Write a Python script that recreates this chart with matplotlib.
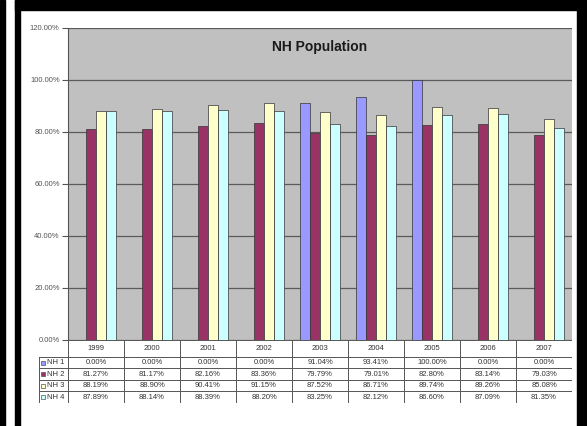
import matplotlib
matplotlib.use("Agg")
import matplotlib.pyplot as plt
import numpy as np
from matplotlib.patches import Rectangle

years = ["1999", "2000", "2001", "2002", "2003", "2004", "2005", "2006", "2007"]
series_names = ["NH 1", "NH 2", "NH 3", "NH 4"]
nh1 = [0.00, 0.00, 0.00, 0.00, 91.04, 93.41, 100.00, 0.00, 0.00]
nh2 = [81.27, 81.17, 82.16, 83.36, 79.79, 79.01, 82.80, 83.14, 79.03]
nh3 = [88.19, 88.90, 90.41, 91.15, 87.52, 86.71, 89.74, 89.26, 85.08]
nh4 = [87.89, 88.14, 88.39, 88.20, 83.25, 82.12, 86.60, 87.09, 81.35]
colors = ["#9999FF", "#993366", "#FFFFCC", "#CCFFFF"]
yticks = [0, 20, 40, 60, 80, 100, 120]

plt.rcParams['font.family'] = ['Liberation Sans', 'DejaVu Sans']

W, H = 587, 426
fig = plt.figure(figsize=(W / 100, H / 100), dpi=100)
fig.patch.set_facecolor("white")

def fx(px):
    return px / W

def fy(py):
    return 1 - py / H

# black frame pieces
for (x0, y0, x1, y1) in [(0, 0, 5, 426), (15, 0, 20, 426), (15, 0, 587, 10), (577, 0, 587, 426)]:
    fig.patches.append(Rectangle((fx(x0), fy(y1)), fx(x1) - fx(x0), fy(y0) - fy(y1),
                                 transform=fig.transFigure, color="black", zorder=0))

L, R, T, B = 68, 572, 28, 340
ax = fig.add_axes([fx(L), fy(B), fx(R) - fx(L), fy(T) - fy(B)])
ax.set_facecolor("#C0C0C0")
ax.set_xlim(0, len(years))
ax.set_ylim(0, 120)
ax.set_yticks(yticks)
ax.set_yticklabels([f"{v:.2f}%" for v in yticks], fontsize=5.5, color="#555555")
ax.tick_params(axis="y", length=4, width=0.8, color="#555555", pad=2)
ax.set_xticks([])
for s in ["top", "right", "bottom"]:
    ax.spines[s].set_visible(False)
ax.spines["left"].set_color("#555555")
ax.spines["left"].set_linewidth(0.8)
ax.grid(axis="y", color="#5a5a5a", linewidth=0.9)
ax.set_axisbelow(True)

x = np.arange(len(years))
bw = 0.178
data = [nh1, nh2, nh3, nh4]
for i, (vals, c) in enumerate(zip(data, colors)):
    ax.bar(x + 0.5 + (i - 1.5) * bw, vals, width=bw, color=c, edgecolor="#333333",
           linewidth=0.5, zorder=3)

ax.text(0.5, 0.94, "NH Population", transform=ax.transAxes, ha="center", va="center",
        fontsize=10, fontweight="bold", color="#1a1a1a")

# table
TL, TB = 39, 403
tax = fig.add_axes([fx(TL), fy(TB), fx(R) - fx(TL), fy(B) - fy(TB)])
lw_units = (L - TL) / ((R - L) / len(years))
tax.set_xlim(-lw_units, len(years))
hdr = 1.45
nrows = 4
tax.set_ylim(hdr + nrows, 0)
tax.axis("off")
lc = "#555555"
# horizontal lines
tax.plot([0, len(years)], [0, 0], color=lc, lw=0.7)
for r in range(nrows + 1):
    yy = hdr + r
    tax.plot([-lw_units, len(years)], [yy, yy], color=lc, lw=0.7)
# vertical lines
for c in range(len(years) + 1):
    tax.plot([c, c], [0, hdr + nrows], color=lc, lw=0.7)
tax.plot([-lw_units, -lw_units], [hdr, hdr + nrows], color=lc, lw=0.7)

for c, yr in enumerate(years):
    tax.text(c + 0.5, hdr / 2, yr, ha="center", va="center", fontsize=5.5, color="#333333")
for r, (name, vals, col) in enumerate(zip(series_names, data, colors)):
    yy = hdr + r + 0.5
    tax.scatter([-lw_units + 0.08], [yy], marker="s", s=9, color=col, edgecolor="#555555",
                linewidth=0.5, clip_on=False)
    tax.text(-lw_units + 0.15, yy, name, ha="left", va="center", fontsize=5.5, color="#333333")
    for c, v in enumerate(vals):
        tax.text(c + 0.5, yy, f"{v:.2f}%", ha="center", va="center", fontsize=5.5, color="#333333")

fig.savefig("out.png", dpi=100)
